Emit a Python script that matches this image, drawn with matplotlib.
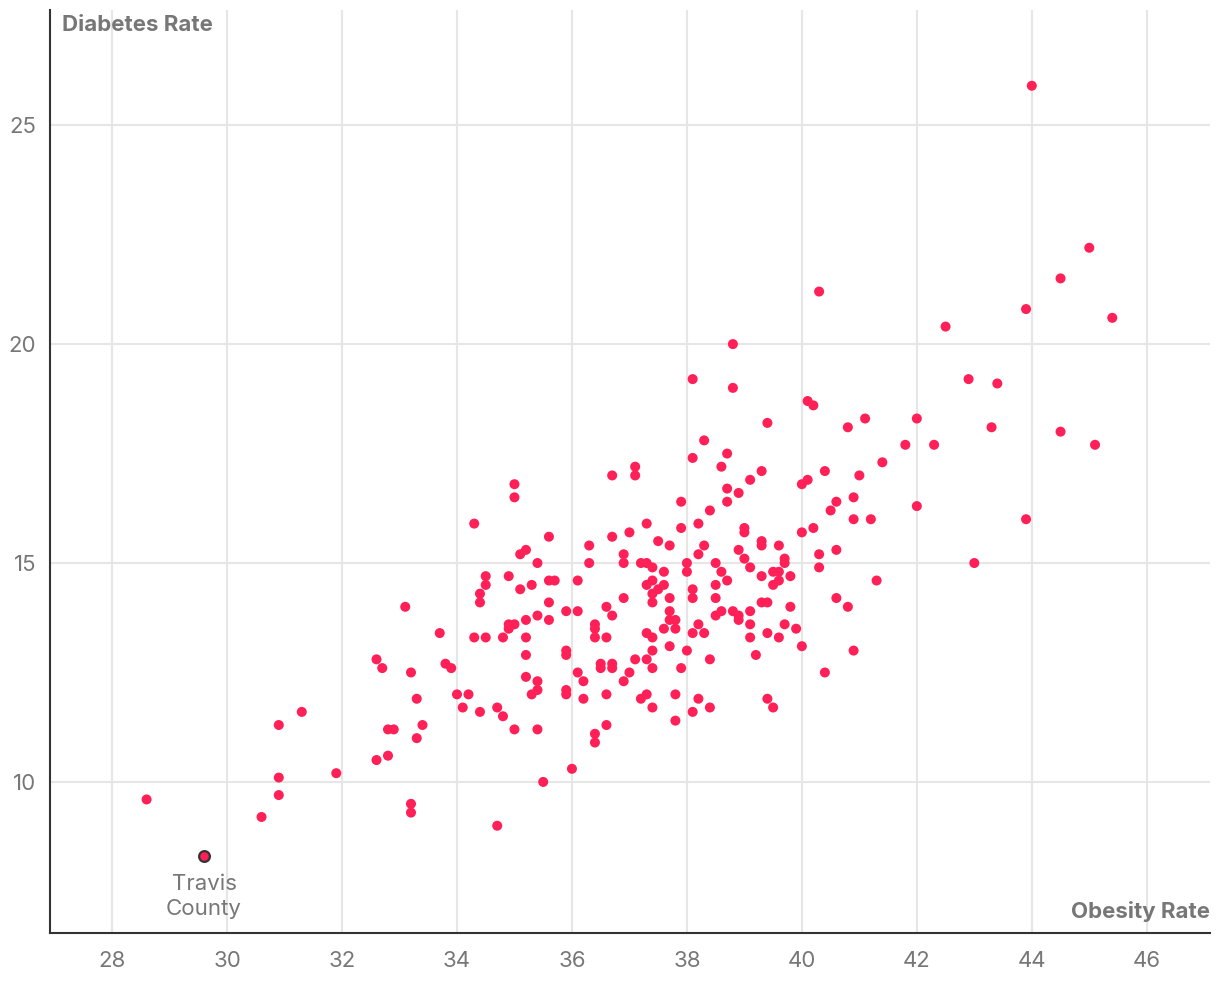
import matplotlib.pyplot as plt

# obesity rate (x) and diabetes rate (y) per county
obesity = [
    28.6, 30.6, 30.9, 30.9, 30.9, 31.3, 31.9, 32.6, 32.7, 32.6, 32.8, 32.8, 32.9,
    33.1, 33.2, 33.2, 33.2, 33.3, 33.3, 33.4, 33.7, 33.8, 33.9, 34.0, 34.1, 34.2,
    34.3, 34.3, 34.4, 34.4, 34.4, 34.5, 34.5, 34.5, 34.7, 34.7, 34.8, 34.8, 34.9,
    34.9, 34.9, 35.0, 35.0, 35.0, 35.0, 35.1, 35.1, 35.2, 35.2, 35.2, 35.2, 35.2,
    35.3, 35.3, 35.4, 35.4, 35.4, 35.4, 35.4, 35.5, 35.6, 35.6, 35.6, 35.6, 35.7,
    35.9, 35.9, 35.9, 35.9, 35.9, 36.0, 36.1, 36.1, 36.1, 36.2, 36.2, 36.3, 36.3,
    36.4, 36.4, 36.4, 36.4, 36.4, 36.5, 36.5, 36.6, 36.6, 36.6, 36.6, 36.7, 36.7,
    36.7, 36.7, 36.7, 36.9, 36.9, 36.9, 36.9, 37.0, 37.0, 37.1, 37.1, 37.1, 37.2,
    37.2, 37.3, 37.3, 37.3, 37.3, 37.3, 37.3, 37.4, 37.4, 37.4, 37.4, 37.4, 37.4,
    37.4, 37.4, 37.5, 37.5, 37.6, 37.6, 37.6, 37.7, 37.7, 37.7, 37.7, 37.7, 37.8,
    37.8, 37.8, 37.8, 37.9, 37.9, 37.9, 38.0, 38.0, 38.0, 38.1, 38.1, 38.1, 38.1,
    38.1, 38.1, 38.2, 38.2, 38.2, 38.2, 38.3, 38.3, 38.3, 38.4, 38.4, 38.4, 38.5,
    38.5, 38.5, 38.5, 38.6, 38.6, 38.6, 38.7, 38.7, 38.7, 38.7, 38.8, 38.8, 38.8,
    38.9, 38.9, 38.9, 38.9, 39.0, 39.0, 39.0, 39.1, 39.1, 39.1, 39.1, 39.1, 39.2,
    39.3, 39.3, 39.3, 39.3, 39.3, 39.4, 39.4, 39.4, 39.4, 39.5, 39.5, 39.5, 39.6,
    39.6, 39.6, 39.6, 39.7, 39.7, 39.7, 39.8, 39.8, 39.9, 40.0, 40.0, 40.0, 40.1,
    40.1, 40.2, 40.2, 40.3, 40.3, 40.3, 40.4, 40.4, 40.5, 40.6, 40.6, 40.6, 40.8,
    40.8, 40.9, 40.9, 40.9, 41.0, 41.1, 41.2, 41.3, 41.4, 41.8, 42.0, 42.0, 42.3,
    42.5, 42.9, 43.0, 43.3, 43.4, 43.9, 43.9, 44.0, 44.5, 44.5, 45.0, 45.1, 45.4,
]
diabetes = [
    9.6, 9.2, 11.3, 10.1, 9.7, 11.6, 10.2, 12.8, 12.6, 10.5, 10.6, 11.2, 11.2,
    14.0, 12.5, 9.5, 9.3, 11.9, 11.0, 11.3, 13.4, 12.7, 12.6, 12.0, 11.7, 12.0,
    15.9, 13.3, 11.6, 14.3, 14.1, 14.7, 14.5, 13.3, 11.7, 9.0, 13.3, 11.5, 14.7,
    13.6, 13.5, 16.8, 16.5, 13.6, 11.2, 15.2, 14.4, 15.3, 13.7, 13.3, 12.9, 12.4,
    14.5, 12.0, 15.0, 13.8, 12.3, 12.1, 11.2, 10.0, 15.6, 14.6, 14.1, 13.7, 14.6,
    13.0, 12.9, 12.1, 12.0, 13.9, 10.3, 14.6, 13.9, 12.5, 11.9, 12.3, 15.4, 15.0,
    13.6, 13.5, 13.3, 11.1, 10.9, 12.7, 12.6, 14.0, 13.3, 12.0, 11.3, 17.0, 15.6,
    13.8, 12.7, 12.6, 15.2, 15.0, 14.2, 12.3, 15.7, 12.5, 17.2, 17.0, 12.8, 15.0,
    11.9, 15.9, 15.0, 14.5, 13.4, 12.8, 12.0, 14.9, 14.6, 14.3, 14.1, 13.3, 13.0,
    12.6, 11.7, 15.5, 14.4, 14.5, 14.8, 13.5, 15.4, 14.2, 13.9, 13.7, 13.1, 13.7,
    13.5, 12.0, 11.4, 16.4, 15.8, 12.6, 15.0, 14.8, 13.0, 19.2, 17.4, 14.4, 14.2,
    13.4, 11.6, 15.9, 15.2, 13.6, 11.9, 17.8, 15.4, 13.4, 16.2, 12.8, 11.7, 15.0,
    14.5, 14.2, 13.8, 17.2, 14.8, 13.9, 17.5, 16.7, 16.4, 14.6, 20.0, 19.0, 13.9,
    16.6, 15.3, 13.8, 13.7, 15.8, 15.7, 15.1, 16.9, 14.9, 13.9, 13.6, 13.3, 12.9,
    17.1, 15.5, 15.4, 14.7, 14.1, 18.2, 14.1, 13.4, 11.9, 14.8, 14.5, 11.7, 15.4,
    14.8, 14.6, 13.3, 15.1, 15.0, 13.6, 14.7, 14.0, 13.5, 15.7, 16.8, 13.1, 18.7,
    16.9, 18.6, 15.8, 21.2, 15.2, 14.9, 17.1, 12.5, 16.2, 16.4, 15.3, 14.2, 18.1,
    14.0, 16.5, 16.0, 13.0, 17.0, 18.3, 16.0, 14.6, 17.3, 17.7, 18.3, 16.3, 17.7,
    20.4, 19.2, 15.0, 18.1, 19.1, 20.8, 16.0, 25.9, 21.5, 18.0, 22.2, 17.7, 20.6,
]
travis_x, travis_y = 29.6, 8.3

x_ticks = [28, 30, 32, 34, 36, 38, 40, 42, 44, 46]
y_ticks = [10, 15, 20, 25]

PINK = '#FF2058'
GREY = '#777777'

plt.rcParams['font.family'] = ['Inter', 'DejaVu Sans']

fig = plt.figure(figsize=(12.2, 10.06), dpi=100)
ax = fig.add_axes([50 / 1220, 73 / 1006, 1160 / 1220, 923 / 1006])

ax.scatter(obesity, diabetes, s=52, color=PINK, edgecolors='none', zorder=3)
ax.scatter([travis_x], [travis_y], s=60, color=PINK, edgecolors='#333333',
           linewidths=1.6, zorder=4)
ax.annotate("Travis\nCounty", (travis_x, travis_y), xytext=(0, -13),
            textcoords='offset points', ha='center', va='top',
            fontsize=16, color=GREY, linespacing=1.3)

ax.set_xlim(26.92, 47.1)
ax.set_ylim(6.55, 27.63)
ax.set_xticks(x_ticks)
ax.set_yticks(y_ticks)
ax.grid(True, color='#e6e6e6', linewidth=1.5, zorder=0)
ax.set_axisbelow(True)
ax.tick_params(length=0, labelsize=16, colors=GREY)
ax.tick_params(axis='x', pad=13)
ax.tick_params(axis='y', pad=10)

for s in ['top', 'right']:
    ax.spines[s].set_visible(False)
for s in ['left', 'bottom']:
    ax.spines[s].set_color('#333333')
    ax.spines[s].set_linewidth(1.5)

ax.text(0.01, 0.995, "Diabetes Rate", transform=ax.transAxes, ha='left',
        va='top', fontsize=16, fontweight='bold', color=GREY)
ax.text(1.0, 0.012, "Obesity Rate", transform=ax.transAxes, ha='right',
        va='bottom', fontsize=16, fontweight='bold', color=GREY)

fig.savefig("out.png", dpi=100, facecolor='white')
